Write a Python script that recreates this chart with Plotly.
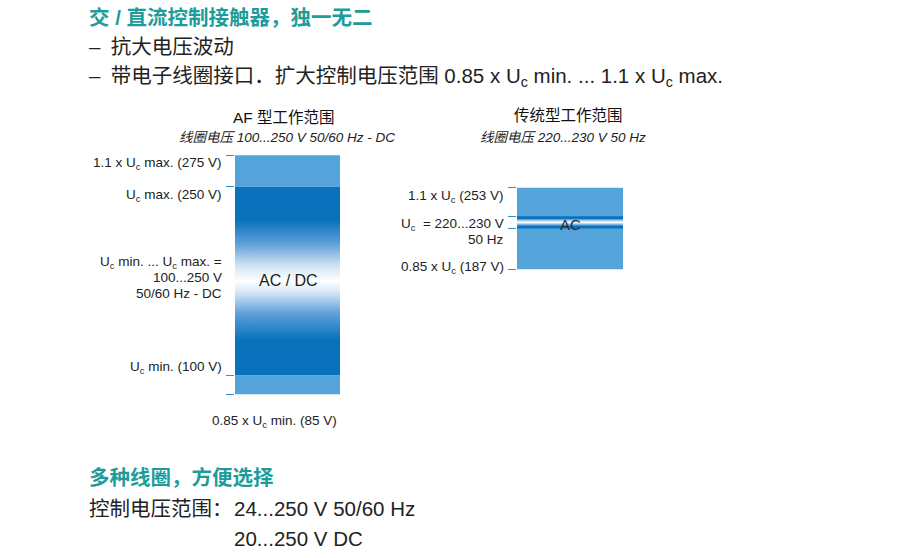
import plotly.graph_objects as go

# Voltage levels (V) of the two operating ranges
af_levels = [85, 100, 250, 275]      # 0.85*Uc min, Uc min, Uc max, 1.1*Uc max
std_levels = [187, 220, 230, 253]    # 0.85*Uc, Uc low, Uc high, 1.1*Uc

W, H = 901, 558
FONT = "Liberation Sans, Noto Sans CJK SC, sans-serif"
TEAL = "#1d9c9c"
DARK = "#0a72bd"
LIGHT = "#54a3db"
TICK = "#2f93c6"
TXT = "#222222"


def px(x):
    return x / W


def py(y):
    return 1 - y / H


fig = go.Figure()

# ---- AF range bar (left) ----
lo85, lo100, hi250, hi275 = af_levels
for lo, hi in [(lo85, lo100), (hi250, hi275)]:
    fig.add_trace(go.Bar(x=[0], y=[hi - lo], base=[lo], width=1,
                         marker=dict(color=LIGHT, line=dict(width=0)),
                         xaxis="x", yaxis="y", hoverinfo="skip"))
fig.add_trace(go.Scatter(
    x=[-0.5, 0.5, 0.5, -0.5], y=[lo100, lo100, hi250, hi250],
    mode="lines", fill="toself", line=dict(width=0, color="rgba(0,0,0,0)"),
    fillgradient=dict(type="vertical", start=lo100, stop=hi250,
                      colorscale=[[0.0, DARK], [0.19, DARK], [0.33, "#5fa2da"],
                                  [0.44, "#d6e6f6"], [0.5, "#ffffff"],
                                  [0.58, "#d2e3f4"], [0.7, "#5d9fd8"],
                                  [0.82, DARK], [1.0, DARK]]),
    xaxis="x", yaxis="y", hoverinfo="skip"))

# ---- conventional range bar (right) ----
s187, s220, s230, s253 = std_levels
fig.add_trace(go.Bar(x=[0], y=[s253 - s187], base=[s187], width=1,
                     marker=dict(color=LIGHT, line=dict(width=0)),
                     xaxis="x2", yaxis="y2", hoverinfo="skip"))
fig.add_trace(go.Scatter(
    x=[-0.5, 0.5, 0.5, -0.5], y=[s220, s220, s230, s230],
    mode="lines", fill="toself", line=dict(width=0, color="rgba(0,0,0,0)"),
    fillgradient=dict(type="vertical", start=s220, stop=s230,
                      colorscale=[[0.0, DARK], [0.18, DARK], [0.35, "#8fc0ea"],
                                  [0.5, "#ffffff"], [0.65, "#a9cfee"],
                                  [0.82, DARK], [1.0, DARK]]),
    xaxis="x2", yaxis="y2", hoverinfo="skip"))

axis_common = dict(showgrid=False, zeroline=False, showline=False,
                   fixedrange=True)
fig.update_layout(
    width=W, height=H, margin=dict(l=0, r=0, t=0, b=0),
    paper_bgcolor="white", plot_bgcolor="rgba(0,0,0,0)",
    showlegend=False, barmode="overlay",
    font=dict(family=FONT, color=TXT),
    xaxis=dict(domain=[px(235), px(340)], range=[-0.5, 0.5],
               showticklabels=False, ticks="", anchor="y", **axis_common),
    yaxis=dict(domain=[0, 1], range=[-45.2, 398.4], anchor="x",
               tickvals=af_levels, ticks="outside", ticklen=8, tickwidth=1,
               tickcolor=TICK, showticklabels=False, **axis_common),
    xaxis2=dict(domain=[px(517), px(623)], range=[-0.5, 0.5],
                showticklabels=False, ticks="", anchor="y2", **axis_common),
    yaxis2=dict(domain=[0, 1], range=[-47.3, 405.4], anchor="x2",
                tickvals=std_levels, ticks="outside", ticklen=8, tickwidth=1,
                tickcolor=TICK, showticklabels=False, **axis_common),
)

UC = "U<sub>c</sub>"


def note(text, x, y, size, anchor="left", color=TXT):
    fig.add_annotation(text=text, x=px(x), y=py(y), xref="paper", yref="paper",
                       xanchor=anchor, yanchor="middle", align=anchor,
                       showarrow=False, font=dict(size=size, color=color, family=FONT))


# Header text
note("<b>交 / 直流控制接触器，独一无二</b>", 87, 18, 20.5, color=TEAL)
note("–\u2002抗大电压波动", 87, 47, 20.5)
note(f"–\u2002带电子线圈接口．扩大控制电压范围 0.85 x {UC} min. ... 1.1 x {UC} max.", 87, 77, 20.5)

# Panel headings
note("AF 型工作范围", 284, 117, 15.5, anchor="center", color="#111111")
note("<i>线圈电压 100...250 V 50/60 Hz - DC</i>", 287, 137, 13.5, anchor="center")
note("传统型工作范围", 568, 116, 15.5, anchor="center", color="#111111")
note("<i>线圈电压 220...230 V 50 Hz</i>", 563, 137, 13.5, anchor="center")

# AF bar labels
LX = 224
note(f"1.1 x {UC} max. ({hi275} V)", LX, 163, 13.5, anchor="right")
note(f"{UC} max. ({hi250} V)", LX, 195, 13.5, anchor="right")
note(f"{UC} min. ... {UC} max. =", LX, 262, 13.5, anchor="right")
note(f"{lo100}...{hi250} V", LX, 277, 13.5, anchor="right")
note("50/60 Hz - DC", LX, 293, 13.5, anchor="right")
note(f"{UC} min. ({lo100} V)", LX, 367, 13.5, anchor="right")
note(f"0.85 x {UC} min. ({lo85} V)", 274, 421, 13.5, anchor="center")
note("AC / DC", 288, 280, 16, anchor="center", color="#1a1a1a")

# Conventional bar labels
RX = 506
note(f"1.1 x {UC} ({s253} V)", RX, 196, 13.5, anchor="right")
note(f"{UC}  = {s220}...{s230} V", RX, 224, 13.5, anchor="right")
note("50 Hz", RX, 239, 13.5, anchor="right")
note(f"0.85 x {UC} ({s187} V)", RX, 267, 13.5, anchor="right")
note("AC", 570, 224, 15, anchor="center", color="#1f2d3d")

# Footer text
note("<b>多种线圈，方便选择</b>", 87, 477, 20.5, color=TEAL)
note("控制电压范围：", 87, 508, 20.5)
note("24...250 V 50/60 Hz", 232, 508, 20.5)
note("20...250 V DC", 232, 538, 20.5)

fig.write_html("out.html")
